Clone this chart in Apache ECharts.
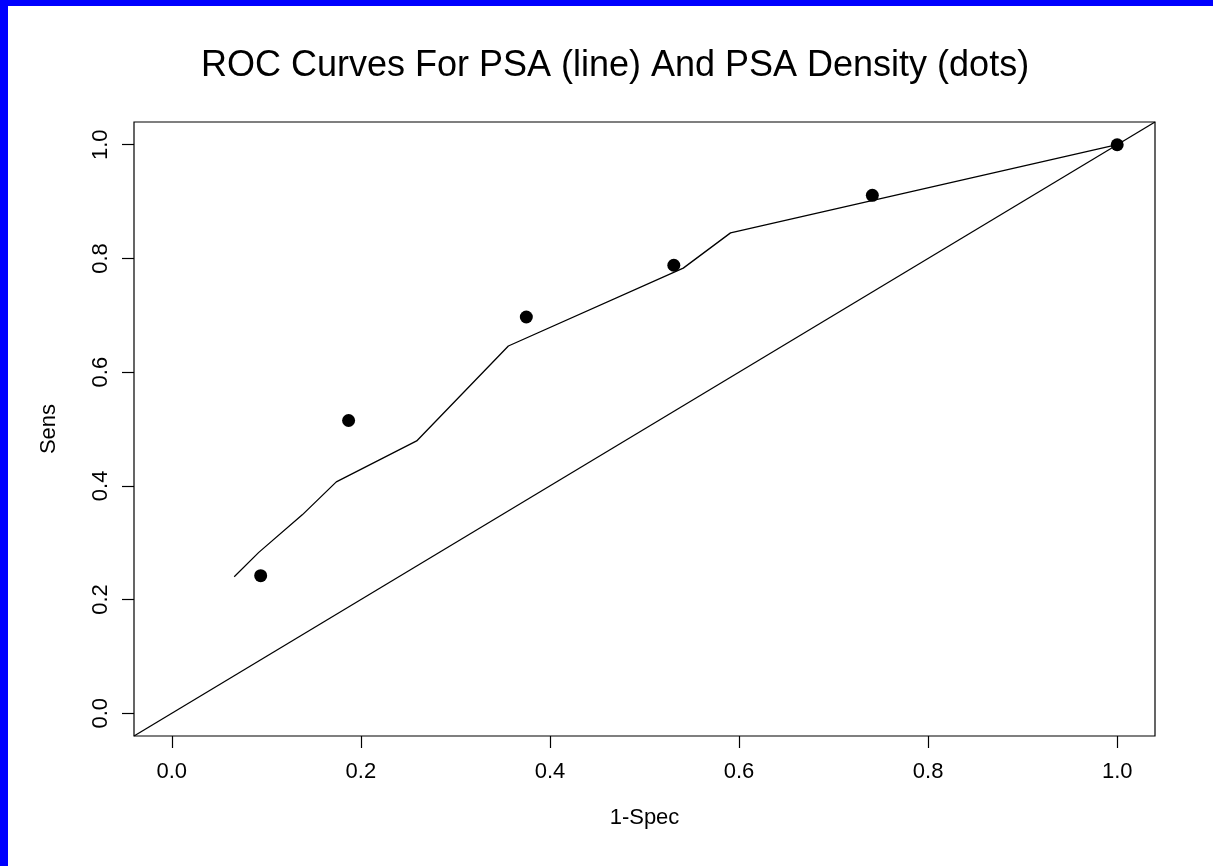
<!DOCTYPE html>
<html>
<head>
<meta charset="utf-8">
<script src="https://cdn.jsdelivr.net/npm/echarts@6/dist/echarts.min.js"></script>
<style>
  html, body { margin: 0; padding: 0; background: #0000ff; }
  #main { position: absolute; left: 8px; top: 6px; width: 1205px; height: 860px; background: #fff; }
</style>
</head>
<body>
<div id="main"></div>
<script>
// PSA 曲线 (line)
var psaX = [0.066, 0.092, 0.138, 0.174, 0.259, 0.356, 0.541, 0.591, 1.0];
var psaY = [0.240, 0.283, 0.349, 0.407, 0.479, 0.646, 0.783, 0.845, 1.0];
// PSA Density (dots)
var densX = [0.094, 0.187, 0.375, 0.531, 0.741, 1.0];
var densY = [0.242, 0.515, 0.697, 0.788, 0.911, 1.0];
// 对角线
var diagX = [-0.04, 1.04];
var diagY = [-0.04, 1.04];
var tickVals = [0, 0.2, 0.4, 0.6, 0.8, 1.0];

function pairs(xs, ys) {
    return xs.map(function (x, i) { return [x, ys[i]]; });
}

var myChart = echarts.init(document.getElementById('main'));
var font = 'Liberation Sans, Arial, sans-serif';
var axisCommon = {
    type: 'value',
    min: -0.04,
    max: 1.04,
    splitLine: { show: false },
    axisLine: { show: false, onZero: false },
    axisTick: {
        show: true, inside: false, length: 12,
        customValues: tickVals,
        lineStyle: { color: '#000', width: 1.2 }
    },
    axisLabel: {
        customValues: tickVals,
        color: '#000', fontSize: 22, fontFamily: font,
        formatter: function (v) { return v.toFixed(1); }
    },
    nameLocation: 'middle',
    nameTextStyle: { color: '#000', fontSize: 22, fontFamily: font }
};

var option = {
    backgroundColor: '#fff',
    animation: false,
    title: {
        text: 'ROC Curves For PSA (line) And PSA Density (dots)',
        left: 602,
        top: 37,
        textAlign: 'center',
        textStyle: { color: '#000', fontSize: 36, fontWeight: 'normal', fontFamily: font }
    },
    grid: {
        left: 126, right: 58, top: 116, bottom: 130,
        show: true, borderColor: '#000', borderWidth: 1.2,
        backgroundColor: 'transparent'
    },
    xAxis: Object.assign({}, axisCommon, {
        name: '1-Spec', nameGap: 71,
        axisLabel: Object.assign({}, axisCommon.axisLabel, { margin: 25 })
    }),
    yAxis: Object.assign({}, axisCommon, {
        name: 'Sens', nameGap: 74, nameRotate: 90,
        axisLabel: Object.assign({}, axisCommon.axisLabel, { rotate: 90, margin: 22 })
    }),
    series: [
        {
            name: 'diag', type: 'line', data: pairs(diagX, diagY),
            showSymbol: false, lineStyle: { color: '#000', width: 1.3 }, silent: true
        },
        {
            name: 'PSA', type: 'line', data: pairs(psaX, psaY),
            showSymbol: false, lineStyle: { color: '#000', width: 1.3 }
        },
        {
            name: 'PSA Density', type: 'scatter', data: pairs(densX, densY),
            symbolSize: 13, itemStyle: { color: '#000', opacity: 1 }
        }
    ]
};
myChart.setOption(option);
</script>
</body>
</html>
